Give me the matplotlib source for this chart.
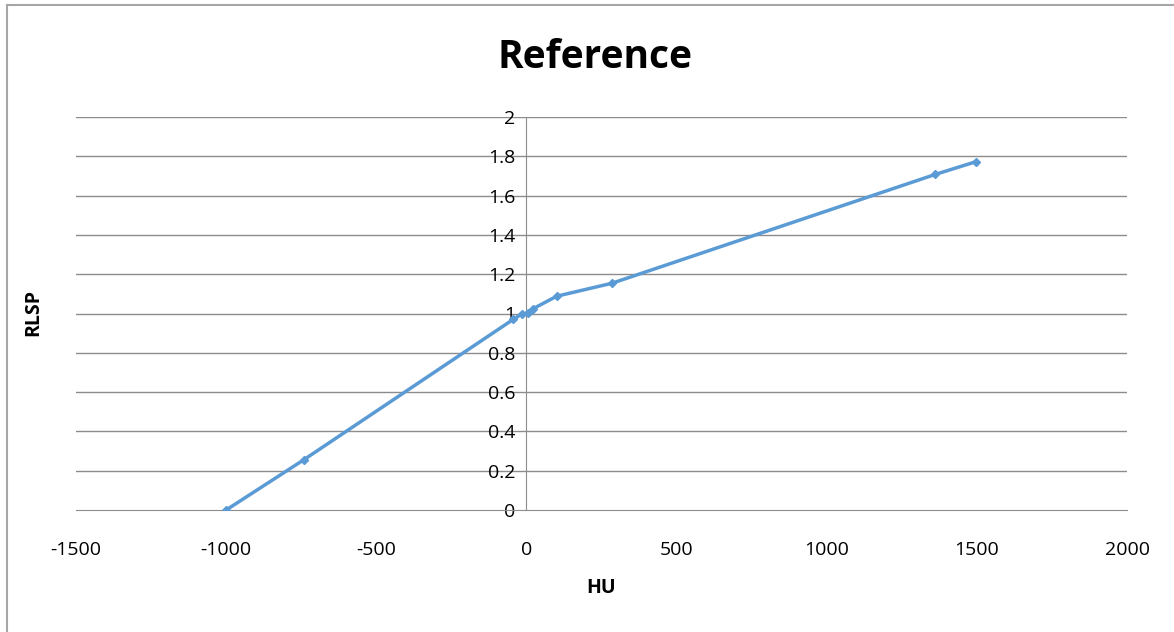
import matplotlib.pyplot as plt

# HU -> RLSP calibration points
hu = [-1000, -741, -44, -16, 6, 23, 101, 285, 1362, 1498]
rlsp = [0.0, 0.256, 0.97, 0.997, 1.003, 1.025, 1.088, 1.154, 1.708, 1.773]

x_ticks = [-1500, -1000, -500, 0, 500, 1000, 1500, 2000]
y_ticks = [0, 0.2, 0.4, 0.6, 0.8, 1, 1.2, 1.4, 1.6, 1.8, 2]

plt.rcParams['font.family'] = ['Open Sans', 'DejaVu Sans']

fig = plt.figure(figsize=(11.74, 6.32), dpi=100)
# outer chart frame (only left and top edges visible in the reference)
fig.add_artist(plt.Line2D([7 / 1174, 7 / 1174], [0, 1 - 5 / 632],
                          color='#a6a6a6', lw=1.5, transform=fig.transFigure))
fig.add_artist(plt.Line2D([7 / 1174, 1], [1 - 5 / 632, 1 - 5 / 632],
                          color='#a6a6a6', lw=1.5, transform=fig.transFigure))

ax = fig.add_axes([76 / 1174, 1 - 510 / 632, (1127 - 76) / 1174, (510 - 117) / 632])
ax.set_xlim(-1500, 2000)
ax.set_ylim(0, 2)

for y in y_ticks[1:]:
    ax.axhline(y, color='#8c8c8c', lw=1, zorder=0)

ax.plot(hu, rlsp, color='#5b9bd5', lw=2.5, marker='D', markersize=4, zorder=3)

for s in ['top', 'right']:
    ax.spines[s].set_visible(False)
ax.spines['left'].set_position(('data', 0))
ax.spines['left'].set_color('#8c8c8c')
ax.spines['bottom'].set_color('#8c8c8c')

ax.set_xticks(x_ticks)
ax.set_xticklabels([str(v) for v in x_ticks])
ax.set_yticks(y_ticks)
ax.set_yticklabels(['0', '0.2', '0.4', '0.6', '0.8', '1', '1.2', '1.4', '1.6', '1.8', '2'])
ax.tick_params(axis='both', length=0, labelsize=14, colors='black')
ax.tick_params(axis='x', pad=22)
ax.tick_params(axis='y', pad=8)

fig.text(595 / 1174, 1 - 57 / 632, 'Reference', fontsize=28, fontweight='bold',
         ha='center', va='center')
ax.set_xlabel('HU', fontsize=14, fontweight='bold', labelpad=14)
fig.text(33 / 1174, 1 - 313 / 632, 'RLSP', rotation=90, fontsize=14,
         fontweight='bold', ha='center', va='center')

fig.savefig('out.png', dpi=100, facecolor='white')
